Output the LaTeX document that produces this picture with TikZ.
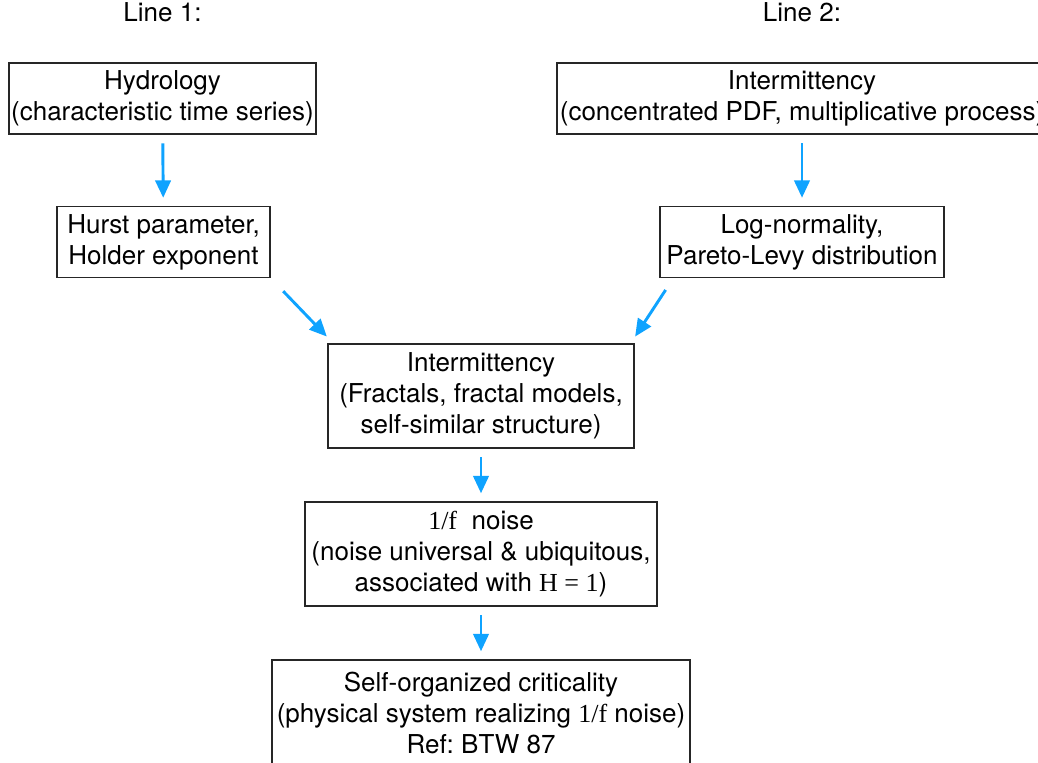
\documentclass[tikz,border=0pt]{standalone}
\usepackage{fontspec}
\setmainfont{TeX Gyre Heros}
\newfontfamily\serifmath{Liberation Serif}
\usetikzlibrary{
  arrows.meta,
  positioning
}
\definecolor{flowblue}{HTML}{0FA3FF}
\definecolor{boxline}{HTML}{262626}
\newcommand{\sym}[1]{{\serifmath #1}}
\frenchspacing
\tikzset{
  base/.style={
    text=black,
    font=\fontsize{19.5}{23.25}\selectfont,
    align=center,
    inner sep=0pt,
  },
  topic/.style={
    base,
    draw=boxline,
    line width=1.1pt,
    minimum height=53.25pt,
  },
  topicbig/.style={
    topic,
    minimum height=78pt,
  },
  linelabel/.style={
    base,
  },
  flow/.style={
    -{Triangle[length=13pt, width=11.5pt]},
    line width=2.2pt,
    draw=flowblue,
    shorten <=6.5pt,
    shorten >=6pt,
  },
}

\begin{document}
\begin{tikzpicture}[x=0.75pt, y=-0.75pt]

\useasboundingbox (0,0) rectangle (1038,763);

% === ROW 1: the two lines ===

\node[topic, minimum width=230.25pt] at (162.5,98.5)
  (hydro) {Hydrology\\(characteristic time series)};

\node[topic, minimum width=367.5pt] at (802,98.5)
  (interpdf) {Intermittency\\(concentrated PDF, multiplicative process)};

\node[linelabel, above=30pt of hydro] (line1) {Line 1:};
\node[linelabel, above=30pt of interpdf] (line2) {Line 2:};

% === ROW 2 ===

\node[topic, minimum width=159.75pt] at (163.5,242)
  (hurst) {Hurst parameter,\\Holder exponent};

\node[topic, minimum width=213pt] at (802,242)
  (lognorm) {Log-normality,\\Pareto-Levy distribution};

\draw[flow] (hydro) -- (hurst);
\draw[flow] (interpdf) -- (lognorm);

% === ROW 3: joined ===

\node[topicbig, minimum width=229.5pt] at (481,396)
  (fractal) {Intermittency\\(Fractals, fractal models,\\self-similar structure)};

\draw[flow, shorten <=13.5pt, shorten >=7pt]
  (hurst.south east) -- ([xshift=4.5pt]fractal.north west);
\draw[flow, shorten <=10.5pt, shorten >=6pt]
  ([xshift=10.5pt]lognorm.south west) -- ([xshift=-3pt]fractal.north east);

% === ROW 4 ===

\node[topicbig, minimum width=264pt] at (481,554)
  (noise) {\sym{1/f}\ \ noise\\(noise universal \& ubiquitous,\\associated with \sym{H = 1})};

\draw[flow] (fractal) -- (noise);

% === ROW 5 ===

\node[topicbig, minimum width=313.5pt, minimum height=79.5pt] at (481,713)
  (soc) {Self-organized criticality\\(physical system realizing \sym{1/f} noise)\\Ref: BTW 87};

\draw[flow] (noise) -- (soc);

\end{tikzpicture}
\end{document}
